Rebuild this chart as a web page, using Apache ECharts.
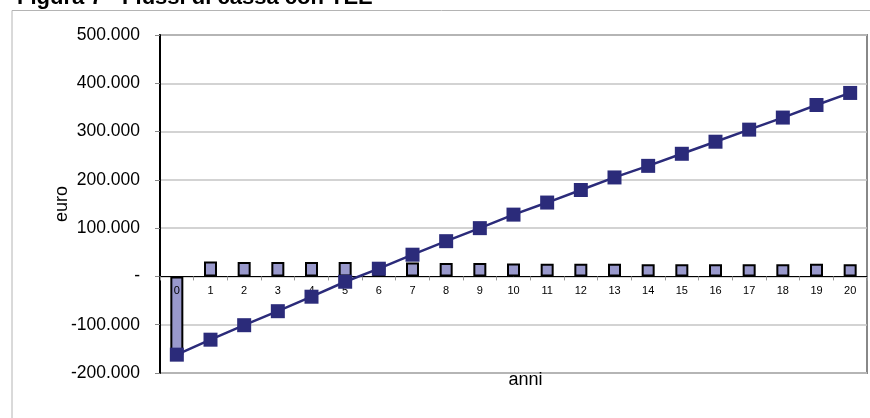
<!DOCTYPE html>
<html>
<head>
<meta charset="utf-8">
<script src="https://cdn.jsdelivr.net/npm/echarts@6/dist/echarts.min.js"></script>
<style>
  html, body { margin: 0; padding: 0; background: #fff; }
  #chart { width: 870px; height: 418px; }
</style>
</head>
<body>
<div id="chart"></div>
<script>
// Anni del progetto
const anni = ['0','1','2','3','4','5','6','7','8','9','10','11','12','13','14','15','16','17','18','19','20'];
// Flusso di cassa annuo (euro)
const flussiAnnui = [-162000, 31000, 30000, 30000, 30000, 30000, 28000, 29000, 28000, 28000, 27000,
                     26000, 26000, 26000, 25000, 25000, 25000, 25000, 25000, 26000, 25000];
// Flusso di cassa cumulato (euro)
const flussiCumulati = [-162000, -131000, -101000, -72000, -42000, -11000, 16000, 45000, 73000, 100000, 128000,
                        153000, 179000, 205000, 229000, 254000, 279000, 304000, 329000, 355000, 380000];
// Scala dell'asse verticale
const yMin = -200000, yMax = 500000, yStep = 100000;

const FONT = "'Liberation Sans', Arial, sans-serif";
const W = 870, H = 418;
const GRID = { left: 160, right: 3, top: 35, bottom: 45 };
const plotHeight = H - GRID.top - GRID.bottom;
// the category axis sits on the zero line of the value scale
const zeroOffset = -((0 - yMin) / (yMax - yMin)) * plotHeight;

function formatEuro(v) {
  if (v === 0) return '-';
  const s = String(Math.abs(v)).replace(/\B(?=(\d{3})+(?!\d))/g, '.');
  return (v < 0 ? '-' : '') + s;
}

const chart = echarts.init(document.getElementById('chart'), null, { renderer: 'canvas' });
chart.setOption({
  animation: false,
  backgroundColor: '#ffffff',
  textStyle: { fontFamily: FONT },
  graphic: [
    {
      type: 'rect', silent: true, z: -1,
      shape: { x: 12, y: 10.5, width: 900, height: 420 },
      style: { fill: 'none', stroke: '#b4b4b4', lineWidth: 1 }
    },
    {
      type: 'text', x: 17, y: 8.5, silent: true,
      style: { text: 'Figura 7 - Flussi di cassa con TEE', font: 'bold 22px ' + FONT, fill: '#000', verticalAlign: 'bottom' }
    }
  ],
  grid: {
    left: GRID.left, right: GRID.right, top: GRID.top, bottom: GRID.bottom,
    outerBoundsMode: 'none',
    containLabel: false,
    show: true, borderColor: '#888', borderWidth: 2, backgroundColor: 'transparent'
  },
  xAxis: {
    type: 'category',
    data: anni,
    position: 'bottom',
    offset: zeroOffset,
    z: 2,
    name: 'anni',
    nameLocation: 'middle',
    nameGap: 95,
    nameMoveOverlap: false,
    nameTextStyle: { fontSize: 18, color: '#000', fontFamily: FONT, padding: [0, 0, 0, 24] },
    axisLine: { onZero: false, lineStyle: { color: '#000', width: 1 } },
    axisTick: { show: true, inside: false, length: 4, lineStyle: { color: '#999' } },
    axisLabel: { fontSize: 11, color: '#000', margin: 9, interval: 0, fontFamily: FONT },
    splitLine: { show: false }
  },
  yAxis: {
    type: 'value',
    min: yMin, max: yMax, interval: yStep,
    name: 'euro',
    nameLocation: 'middle',
    nameGap: 89,
    nameRotate: 90,
    nameMoveOverlap: false,
    nameTextStyle: { fontSize: 18, color: '#000', fontFamily: FONT },
    axisLine: { show: true, lineStyle: { color: '#000', width: 2 } },
    axisTick: { show: true, length: 5, lineStyle: { color: '#888' } },
    axisLabel: { fontSize: 17.5, color: '#000', margin: 20, formatter: formatEuro, fontFamily: FONT },
    splitLine: { show: true, lineStyle: { color: '#c4c4c4', width: 1.5 } }
  },
  series: [
    {
      name: 'Flusso annuo',
      type: 'bar',
      z: 1,
      data: flussiAnnui,
      barWidth: 13,
      itemStyle: { color: '#9999cc', borderColor: '#000', borderWidth: 2 }
    },
    {
      name: 'Flusso cumulato',
      type: 'line',
      z: 3,
      data: flussiCumulati,
      symbol: 'rect',
      symbolSize: 14,
      showAllSymbol: true,
      lineStyle: { color: '#2b2b7a', width: 2.5 },
      itemStyle: { color: '#2b2b7a', borderWidth: 0 }
    }
  ]
});
</script>
</body>
</html>
